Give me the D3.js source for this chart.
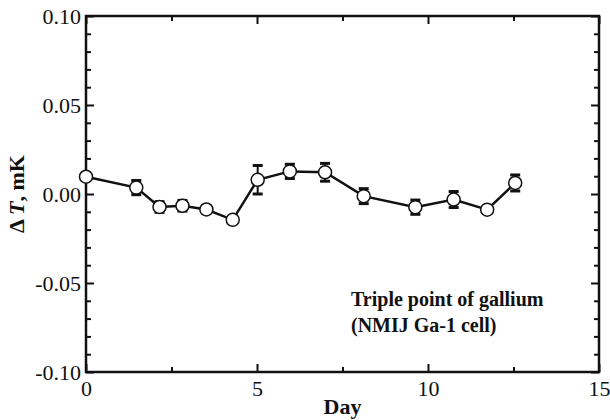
<!DOCTYPE html>
<html>
<head>
<meta charset="utf-8">
<script src="https://cdn.jsdelivr.net/npm/d3@7"></script>
<style>
  body { margin: 0; background: #fff; }
</style>
</head>
<body>
<svg id="drawing_region"></svg>
<script>
// measured values
const days   = [0, 1.47, 2.15, 2.82, 3.52, 4.29, 5.02, 5.96, 6.99, 8.12, 9.63, 10.75, 11.73, 12.55];
const deltaT = [0.0097, 0.0036, -0.0073, -0.0066, -0.0087, -0.0145, 0.0080, 0.0127, 0.0122, -0.0012, -0.0074, -0.0031, -0.0088, 0.0062];
const errs   = [0.002, 0.004, 0.003, 0.003, 0.002, 0.002, 0.008, 0.004, 0.005, 0.0042, 0.004, 0.0045, 0.002, 0.0045];
const xTicks = [0, 5, 10, 15];
const xMinor = [2.5, 7.5, 12.5];
const yTicks = [-0.10, -0.05, 0.00, 0.05, 0.10];
const yMinor = d3.range(-0.09, 0.1, 0.01).filter(v => Math.abs(Math.round(v * 100) % 5) !== 0);
const legendLines = ["Triple point of gallium", "(NMIJ Ga-1 cell)"];

const FONT = 'Liberation Serif';
const width = 610, height = 420;
const margin = {top: 16, right: 11, bottom: 48, left: 86};
const iw = width - margin.left - margin.right;
const ih = height - margin.top - margin.bottom;

const svg = d3.select('#drawing_region')
    .attr('width', width)
    .attr('height', height);
const g = svg.append('g')
    .attr('transform', `translate(${margin.left},${margin.top})`);

const x = d3.scaleLinear().domain([0, 15]).range([0, iw]);
const y = d3.scaleLinear().domain([-0.1, 0.1]).range([ih, 0]);

// frame
g.append('rect')
    .attr('width', iw).attr('height', ih)
    .attr('fill', 'none').attr('stroke', '#111').attr('stroke-width', 2.5);

// ticks, all pointing inward
function ticks(axis, vals, len, offset) {
    const a = g.append('g').attr('transform', offset).call(axis.tickValues(vals).tickSize(len).tickFormat(''));
    a.select('.domain').remove();
    a.selectAll('line').attr('stroke', '#111').attr('stroke-width', 2);
}
ticks(d3.axisTop(x), xTicks, 8, `translate(0,${ih})`);
ticks(d3.axisTop(x), xMinor, 5, `translate(0,${ih})`);
ticks(d3.axisBottom(x), xTicks, 8, 'translate(0,0)');
ticks(d3.axisBottom(x), xMinor, 5, 'translate(0,0)');
ticks(d3.axisRight(y), yTicks, 8, 'translate(0,0)');
ticks(d3.axisRight(y), yMinor, 5, 'translate(0,0)');
ticks(d3.axisLeft(y), yTicks, 8, `translate(${iw},0)`);
ticks(d3.axisLeft(y), yMinor, 5, `translate(${iw},0)`);

// tick labels
const xl = g.append('g').attr('transform', `translate(0,${ih})`)
    .call(d3.axisBottom(x).tickValues(xTicks).tickSize(0).tickPadding(24).tickFormat(d3.format('d')));
xl.select('.domain').remove();
xl.selectAll('text')
    .attr('dy', 0).attr('fill', '#111')
    .style('font-family', FONT).style('font-size', '22px');

const yl = g.append('g')
    .call(d3.axisLeft(y).tickValues(yTicks).tickSize(0).tickPadding(5)
        .tickFormat(d => d3.format('.2f')(d).replace('\u2212', '-')));
yl.select('.domain').remove();
yl.selectAll('text')
    .attr('dy', '0.34em').attr('fill', '#111')
    .style('font-family', FONT).style('font-size', '22px');

// axis titles
svg.append('text')
    .attr('x', margin.left + x(7.5)).attr('y', 414)
    .attr('text-anchor', 'middle')
    .attr('fill', '#111')
    .style('font-family', FONT).style('font-size', '22px').style('font-weight', 'bold')
    .text('Day');

const yt = svg.append('text')
    .attr('transform', `translate(24,${margin.top + y(0)}) rotate(-90)`)
    .attr('text-anchor', 'middle')
    .attr('fill', '#111')
    .style('font-family', FONT).style('font-size', '22px').style('font-weight', 'bold');
yt.append('tspan').text('\u0394 ');
yt.append('tspan').style('font-style', 'italic').text('T');
yt.append('tspan').text(', mK');

// data
const data = days.map((d, i) => ({day: d, v: deltaT[i], e: errs[i]}));

const bars = g.append('g').attr('stroke', '#111');
bars.selectAll('.eb').data(data).enter().append('line')
    .attr('x1', d => x(d.day)).attr('x2', d => x(d.day))
    .attr('y1', d => y(d.v - d.e)).attr('y2', d => y(d.v + d.e))
    .attr('stroke-width', 2);
[-1, 1].forEach(s => {
    bars.selectAll(null).data(data).enter().append('line')
        .attr('x1', d => x(d.day) - 5).attr('x2', d => x(d.day) + 5)
        .attr('y1', d => y(d.v + s * d.e)).attr('y2', d => y(d.v + s * d.e))
        .attr('stroke-width', 3);
});

g.append('path')
    .datum(data)
    .attr('d', d3.line().x(d => x(d.day)).y(d => y(d.v)))
    .attr('fill', 'none').attr('stroke', '#111').attr('stroke-width', 2.5);

g.selectAll('.pt').data(data).enter().append('circle')
    .attr('cx', d => x(d.day)).attr('cy', d => y(d.v))
    .attr('r', 6.5)
    .attr('fill', '#fff').attr('stroke', '#111').attr('stroke-width', 1.5);

// legend note
svg.append('text')
    .attr('x', 351).attr('y', 306)
    .attr('fill', '#111')
    .style('font-family', FONT).style('font-size', '20px').style('font-weight', 'bold')
    .selectAll('tspan').data(legendLines).enter().append('tspan')
    .attr('x', 351).attr('dy', (d, i) => i ? 26 : 0)
    .text(d => d);
</script>
</body>
</html>
